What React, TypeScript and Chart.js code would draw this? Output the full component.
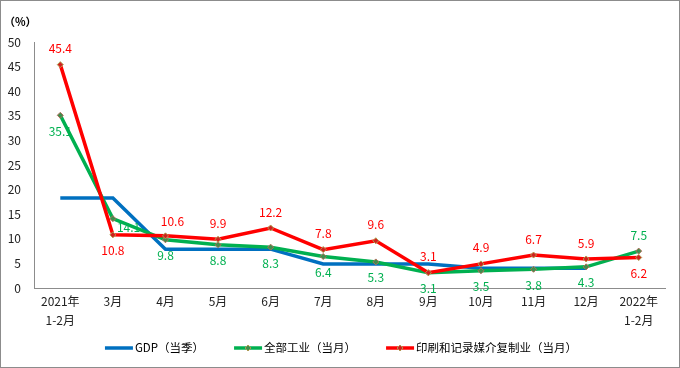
import { useEffect, useRef } from 'react';
import { Chart, registerables } from 'chart.js';
Chart.register(...registerables);

const categories: (string | string[])[] = [
  ['2021年', '1-2月'], '3月', '4月', '5月', '6月', '7月', '8月', '9月', '10月', '11月', '12月', ['2022年', '1-2月'],
];
const gdpValues: (number | null)[] = [18.3, 18.3, 7.9, 7.9, 7.9, 4.9, 4.9, 4.9, 4.0, 4.0, 4.0, null];
const industryValues = [35.1, 14.1, 9.8, 8.8, 8.3, 6.4, 5.3, 3.1, 3.5, 3.8, 4.3, 7.5];
const printingValues = [45.4, 10.8, 10.6, 9.9, 12.2, 7.8, 9.6, 3.1, 4.9, 6.7, 5.9, 6.2];
const yTicks = { min: 0, max: 50, step: 5 };
const seriesNames = ['GDP（当季）', '全部工业（当月）', '印刷和记录媒介复制业（当月）'];
const unitLabel = '（%）';

// label placement per point
const industryLabelPos = ['below', 'right', 'below', 'below', 'below', 'below', 'below', 'below', 'below', 'below', 'below', 'above'];
const printingLabelPos = ['above', 'below', 'aboveRight', 'above', 'above', 'above', 'above', 'above', 'above', 'above', 'above', 'below'];

const FONT = '"Noto Sans CJK SC", "Noto Sans", sans-serif';
const BLUE = '#0070C0';
const GREEN = '#00B050';
const RED = '#FF0000';

const decorPlugin = {
  id: 'decor',
  beforeDraw(chart: any) {
    const ctx = chart.ctx;
    ctx.save();
    ctx.fillStyle = '#ffffff';
    ctx.fillRect(0, 0, chart.width, chart.height);
    ctx.strokeStyle = '#8c8c8c';
    ctx.lineWidth = 1;
    ctx.strokeRect(0.5, 0.5, chart.width - 1, chart.height - 1);
    ctx.restore();
  },
  afterDatasetsDraw(chart: any) {
    const ctx = chart.ctx;
    ctx.save();
    ctx.font = `12px ${FONT}`;
    ctx.textBaseline = 'middle';
    const draw = (dsIndex: number, values: (number | null)[], pos: string[], color: string) => {
      const meta = chart.getDatasetMeta(dsIndex);
      ctx.fillStyle = color;
      values.forEach((v, i) => {
        if (v == null) return;
        const el = meta.data[i];
        let x = el.x;
        let y = el.y;
        ctx.textAlign = 'center';
        if (pos[i] === 'above') y -= 16;
        else if (pos[i] === 'aboveRight') {
          y -= 14;
          x += 7;
        } else if (pos[i] === 'below') y += 16;
        else if (pos[i] === 'right') {
          x += 4;
          y += 9;
          ctx.textAlign = 'left';
        }
        ctx.fillText(v.toFixed(1), x, y);
      });
    };
    draw(1, industryValues, industryLabelPos, GREEN);
    draw(2, printingValues, printingLabelPos, RED);
    ctx.restore();
  },
  afterDraw(chart: any) {
    const ctx = chart.ctx;
    ctx.save();
    // unit label
    ctx.font = `bold 11px ${FONT}`;
    ctx.fillStyle = '#000';
    ctx.textAlign = 'left';
    ctx.textBaseline = 'middle';
    ctx.fillText(unitLabel, 4, 22);
    // legend
    ctx.font = `11.5px ${FONT}`;
    const colors = [BLUE, GREEN, RED];
    const markers = [false, true, true];
    const lineW = 28;
    const gap = 30;
    const widths = seriesNames.map((n) => ctx.measureText(n).width);
    const total = widths.reduce((a, b) => a + b + lineW + 2, 0) + gap * (seriesNames.length - 1);
    let x = 341 - total / 2;
    const y = 348;
    seriesNames.forEach((name, i) => {
      ctx.strokeStyle = colors[i];
      ctx.lineWidth = 3.5;
      ctx.beginPath();
      ctx.moveTo(x, y);
      ctx.lineTo(x + lineW, y);
      ctx.stroke();
      if (markers[i]) {
        const cx = x + lineW / 2;
        ctx.fillStyle = i === 2 ? '#D02020' : '#3E8E4E';
        ctx.strokeStyle = '#B09A50';
        ctx.lineWidth = 1;
        ctx.beginPath();
        ctx.moveTo(cx, y - 3);
        ctx.lineTo(cx + 3, y);
        ctx.lineTo(cx, y + 3);
        ctx.lineTo(cx - 3, y);
        ctx.closePath();
        ctx.fill();
        ctx.stroke();
      }
      ctx.fillStyle = '#000';
      ctx.textAlign = 'left';
      ctx.fillText(name, x + lineW + 2, y);
      x += lineW + 2 + widths[i] + gap;
    });
    ctx.restore();
  },
};

export default function App() {
  const ref = useRef<HTMLCanvasElement>(null);
  useEffect(() => {
    document.body.style.margin = '0';
    const chart = new Chart(ref.current!, {
      type: 'line',
      data: {
        labels: categories as any,
        datasets: [
          {
            label: seriesNames[0],
            data: gdpValues,
            borderColor: BLUE,
            backgroundColor: BLUE,
            borderWidth: 3.5,
            pointRadius: 0,
            tension: 0,
            order: 3,
          },
          {
            label: seriesNames[1],
            data: industryValues,
            borderColor: GREEN,
            backgroundColor: '#3E8E4E',
            borderWidth: 3.5,
            pointStyle: 'rectRot',
            pointRadius: 3,
            pointBorderColor: '#B0705A',
            pointBorderWidth: 1,
            tension: 0,
            order: 2,
          },
          {
            label: seriesNames[2],
            data: printingValues,
            borderColor: RED,
            backgroundColor: '#D02020',
            borderWidth: 3.5,
            pointStyle: 'rectRot',
            pointRadius: 3,
            pointBorderColor: '#B0A050',
            pointBorderWidth: 1,
            tension: 0,
            order: 1,
          },
        ],
      },
      options: {
        responsive: false,
        animation: false,
        devicePixelRatio: 1,
        layout: { padding: { top: 42, right: 15, left: 0, bottom: 0 } },
        plugins: { legend: { display: false }, tooltip: { enabled: false } },
        scales: {
          x: {
            offset: true,
            grid: { display: false, drawTicks: false },
            border: { display: true, color: '#8c8c8c', width: 1 },
            ticks: {
              color: '#222',
              font: { family: FONT, size: 12, lineHeight: 1.6 },
              padding: 4,
              maxRotation: 0,
              autoSkip: false,
            },
            afterFit: (s: any) => {
              s.height = 80;
            },
          },
          y: {
            min: yTicks.min,
            max: yTicks.max,
            grid: { display: false, drawTicks: false },
            border: { display: true, color: '#8c8c8c', width: 1 },
            ticks: {
              stepSize: yTicks.step,
              color: '#222',
              font: { family: FONT, size: 12 },
              padding: 13,
            },
            afterFit: (s: any) => {
              s.width = 34;
            },
          },
        },
      },
      plugins: [decorPlugin],
    });
    return () => chart.destroy();
  }, []);
  return (
    <div style={{ width: 680, height: 368 }}>
      <canvas ref={ref} width={680} height={368} style={{ display: 'block' }} />
    </div>
  );
}
